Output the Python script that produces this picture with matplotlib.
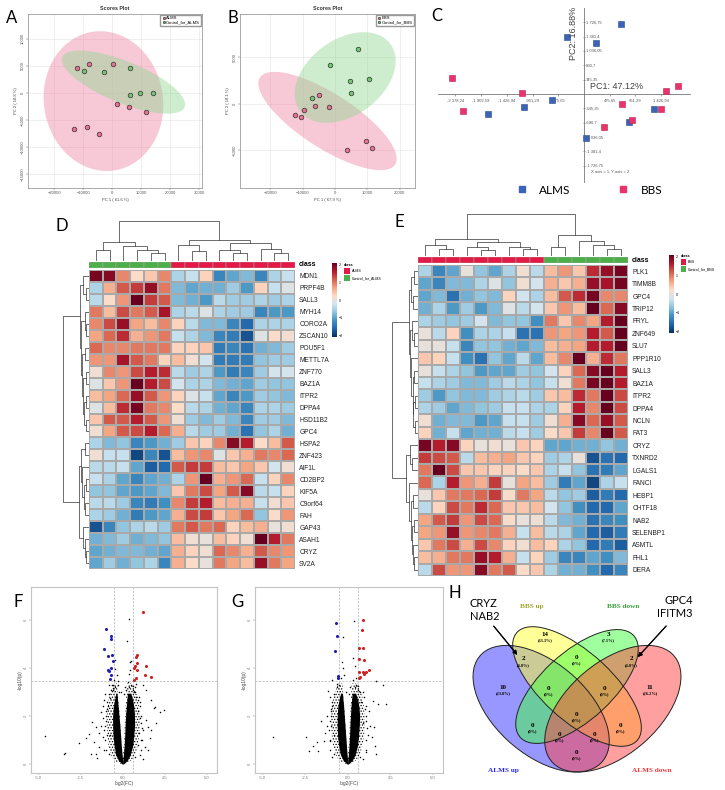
import numpy as np
import matplotlib
matplotlib.use("Agg")
import matplotlib.pyplot as plt
from matplotlib.patches import Ellipse, Rectangle
from matplotlib.lines import Line2D
from matplotlib.colors import LinearSegmentedColormap

plt.rcParams['font.family'] = ['Liberation Sans', 'DejaVu Sans']
plt.rcParams['hatch.linewidth'] = 0.6

W, H = 725, 790


def box(l, t, r, b):
    # pixel box (left, top, right, bottom) -> figure fraction rect
    return [l / W, 1 - b / H, (r - l) / W, (b - t) / H]


# ---------------- PCA scores (A, B) ----------------
a_alms_x = [-12000, -7900, 350, 1530, 6000, 11530, -13300, -8600, -4470]
a_alms_y = [4560, 5375, 5310, -2125, -2690, -3560, -6750, -6250, -7560]
a_ctrl_x = [-9760, -2820, 6240, 6240, 9650, 14000]
a_ctrl_y = [4125, 3810, 4560, -375, -60, -60]

b_bbs_x = [-5050, -6190, -1960, -9690, -12370, -10520, 9480, 11440, 3710]
b_bbs_y = [960, -290, -320, -680, -1180, -1460, -3960, -4750, -4960]
b_ctrl_x = [7110, -1650, 4540, 10620, 5050, -7010]
b_ctrl_y = [5930, 4210, 2500, 2610, 1110, 570]

# ---------------- PCA (C) ----------------
c_alms_x = [692, -321, 216, -593, -1106, -1767, 1303, 840, 43]
c_alms_y = [1691, 1362, 1226, -144, -312, -481, -353, -681, -1058]
c_bbs_x = [-2434, -1149, -2242, 704, 1520, 1736, 1421, 889, 371]
c_bbs_y = [393, 16, -409, -248, 64, 200, -361, -633, -793]
c_xticks = [-2378.24, -1902.59, -1426.94, -951.29, -475.65, 475.65, 951.29, 1426.94]
c_yticks = [-1726.75, -1381.4, -1036.05, -690.7, -345.35, 345.35, 690.7, 1036.05, 1381.4, 1726.75]

# ---------------- heatmap D ----------------
d_genes = ["MDN1", "PRPF4B", "SALL3", "MYH14", "CORO2A", "ZSCAN10", "POU5F1", "METTL7A",
           "ZNF770", "BAZ1A", "ITPR2", "DPPA4", "HSD11B2", "GPC4", "HSPA2", "ZNF423",
           "AIF1L", "CD2BP2", "KIF5A", "C9orf64", "FAH", "GAP43", "ASAH1", "CRYZ", "SV2A"]
d_classes = ["ctrl"] * 6 + ["case"] * 9
d_values = [
    [2.0, 1.9, 0.9, 0.2, 0.4, 0.9, -0.5, -0.3, 0.3, -1.3, -1.0, -0.8, -1.3, -0.5, -0.3],
    [-0.5, 0.6, 1.2, 1.4, 1.8, 1.0, -0.8, -1.0, -0.9, -0.9, -0.6, -1.1, 0.3, -0.3, -0.1],
    [-0.4, 0.2, 0.8, 2.4, 1.4, 1.2, -0.8, -0.9, -1.1, -0.4, -0.6, -0.6, -0.5, -0.6, -0.5],
    [1.0, 0.5, 1.3, 1.0, 1.2, 1.7, -0.5, -0.4, -0.1, -0.5, -0.6, -0.6, -1.3, -1.1, -1.1],
    [0.9, 1.3, 1.8, 0.7, 0.5, 0.9, 0.3, -0.4, -0.8, -0.8, -1.3, -1.6, -0.5, -0.5, -0.5],
    [0.7, 1.1, 1.5, 0.6, 0.8, 1.0, -0.3, -0.5, -0.8, -1.3, -1.4, -1.8, -0.1, 0.2, 0.1],
    [1.1, 0.9, 0.9, 1.0, 1.0, 1.0, 0.3, 0.3, 0.4, -1.4, -1.3, -1.5, -0.9, -0.8, -0.6],
    [0.8, 0.8, 1.7, 1.2, 1.0, 0.3, 0.5, 0.1, -0.2, -1.4, -1.4, -1.4, -0.7, -0.6, -0.6],
    [0.1, 0.9, 0.8, 1.3, 1.6, 1.5, -0.4, -0.6, -0.5, -1.1, -1.4, -1.3, -0.6, -0.2, -0.2],
    [-0.1, 0.4, 0.8, 2.2, 1.6, 1.3, -0.2, -0.5, -0.5, -0.8, -0.9, -1.0, -0.6, -0.7, -0.7],
    [0.5, 0.7, 1.1, 1.8, 1.2, 0.8, 0.3, -0.1, -0.3, -1.0, -1.3, -1.1, -0.6, -0.7, -0.8],
    [-0.1, 0.5, 1.5, 2.0, 1.0, 0.9, 0.2, -0.4, -0.5, -0.9, -1.0, -1.3, -0.5, -0.5, -0.6],
    [0.4, 1.2, 1.2, 1.6, 1.2, 0.8, 0.1, -0.6, -0.8, -0.6, -0.8, -1.3, -0.6, -0.6, -0.8],
    [0.1, 0.7, 1.2, 1.3, 1.6, 1.1, 0.6, -0.4, -0.6, -0.6, -0.9, -1.5, -0.7, -0.5, -0.9],
    [-0.5, -0.8, -0.7, -1.3, -1.1, -0.9, -0.6, 0.4, 0.3, 0.9, 1.9, 1.6, 0.2, 0.5, 1.2],
    [0.1, -0.3, -0.3, -1.9, -1.3, -1.8, 0.5, 0.8, 0.9, -0.1, 0.4, 0.6, 1.0, 0.9, 1.1],
    [-0.4, -0.4, -0.3, -1.0, -1.7, -1.6, 1.2, 1.4, 1.4, 0.5, 0.4, 0.7, 0.4, -0.2, 0.1],
    [-0.3, -0.5, -1.0, -1.3, -1.0, -0.9, -0.5, 0.8, 2.1, 0.6, 0.8, 1.1, -0.3, 0.3, 0.9],
    [-0.7, -0.7, -1.0, -1.1, -1.0, -0.8, 0.4, 1.0, 1.3, 0.7, 1.2, 1.9, -0.4, -0.3, 0.3],
    [-0.4, -0.4, -0.6, -1.3, -1.4, -1.2, 0.9, 1.4, 1.6, 0.5, 0.6, 0.6, -0.3, 0.1, 0.4],
    [-0.5, -0.6, -0.9, -1.4, -1.1, -1.0, 0.6, 1.3, 1.4, 0.4, 0.7, 1.1, -0.7, 0.2, 0.8],
    [-1.8, -1.3, -0.7, -0.5, -0.4, -0.6, 1.0, 1.2, 1.0, 1.1, 0.3, 0.5, 0.6, 0.0, 0.1],
    [-0.9, -0.8, -0.6, -0.9, -0.8, -0.7, 0.5, 0.1, 0.0, 0.5, 0.3, 0.1, 2.1, 1.6, 1.0],
    [-1.0, -0.9, -0.8, -0.8, -0.9, -1.0, 0.6, 0.3, 0.1, 1.1, 0.9, 0.6, 1.2, 0.9, 0.8],
    [-1.0, -0.6, -0.9, -0.7, -0.5, -1.3, 0.6, 0.2, 0.0, 1.0, 0.7, 0.5, 1.8, 1.0, 0.7],
]
# trees: leaf = column/row index, node = (height, left, right)
d_col_tree = (10, (4.9, (2.7, 0, 1), (3.7, 2, (2.8, 3, (2.0, 4, 5)))),
              (5.4, (4.1, 6, (2.4, 7, 8)), (4.6, (2.8, 9, (1.9, 10, 11)), (3.0, 12, (2.0, 13, 14)))))
d_row_tree = (10,
              (3.6, (2.2, 0, (1.2, 1, 2)),
               (3.0, (1.6, 3, (1.0, 4, 5)),
                (2.6, (1.4, 6, 7), (2.2, (1.2, 8, 9), (1.8, (1.0, 10, 11), (1.1, 12, 13)))))),
              (3.9, (3.2, (1.4, 14, 15), (2.6, 16, (2.0, (1.2, 17, 18), (1.4, 19, 20)))),
               (2.4, 21, (1.6, 22, (1.0, 23, 24)))))

# ---------------- heatmap E ----------------
e_genes = ["PLK1", "TIMM8B", "GPC4", "TRIP12", "FRYL", "ZNF649", "SLU7", "PPP1R10", "SALL3",
           "BAZ1A", "ITPR2", "DPPA4", "NCLN", "FAT3", "CRYZ", "TXNRD2", "LGALS1", "FANCI",
           "HEBP1", "CHTF18", "NAB2", "SELENBP1", "ASMTL", "FHL1", "DERA"]
e_classes = ["case"] * 9 + ["ctrl"] * 6
e_values = [
    [-0.5, -1.3, -1.0, 0.0, -0.7, -1.0, -0.5, 0.1, -0.4, 0.5, 0.8, 0.4, 1.5, 1.8, 2.0],
    [-1.0, -1.3, -0.8, -0.8, -0.5, -0.1, -0.7, 0.1, -0.2, 0.6, 0.4, 0.6, 1.8, 1.7, 2.0],
    [-1.0, -0.8, -1.5, -0.9, -0.7, -0.8, 0.3, -0.2, -0.5, 0.5, 1.2, 1.5, 2.0, 0.9, 0.9],
    [-0.9, -0.5, -1.1, -0.6, -1.1, -0.8, -0.1, -0.4, -0.2, 0.4, 0.8, 0.5, 2.4, 1.1, 1.9],
    [-0.5, -0.6, -0.7, -0.6, -0.2, -0.8, -0.7, -0.7, -1.2, 1.0, 0.4, 0.9, 0.7, 1.6, 2.4],
    [0.0, -0.4, 0.3, -1.2, -0.5, -0.5, -0.3, -1.5, -1.5, 0.8, 0.7, 0.8, 1.6, 1.2, 2.1],
    [0.0, 0.0, -0.3, -1.3, -0.7, -0.7, -0.9, -1.0, -0.8, 0.5, 0.6, 0.7, 1.6, 1.6, 2.4],
    [0.4, 0.3, -0.3, -1.2, -1.5, -0.7, -1.0, -0.4, -1.0, 0.5, 0.9, 2.3, 0.6, 1.5, 1.0],
    [0.0, -0.3, -0.5, -0.7, -1.1, -1.0, -1.0, -0.6, -0.7, -0.2, 0.3, 1.1, 1.9, 2.1, 1.6],
    [-0.3, -0.5, -0.6, -0.8, -0.8, -0.6, -0.4, -0.5, -0.7, -0.3, 0.1, 1.0, 2.0, 2.4, 1.6],
    [-0.6, -1.1, -0.7, -0.8, -0.8, -0.6, -0.5, -0.4, -0.6, 0.4, 0.5, 1.5, 1.0, 2.5, 1.3],
    [-0.5, -0.6, -1.0, -0.8, -0.7, -0.6, -0.3, -0.3, -0.5, -0.5, 0.3, 1.6, 0.9, 2.6, 1.3],
    [0.1, -0.9, -0.8, -0.8, -1.1, -1.0, -0.3, -0.3, -0.6, 0.1, 0.6, 1.9, 1.1, 1.8, 1.2],
    [0.3, -0.9, -0.3, -1.0, -0.9, -0.9, -0.4, -0.3, -0.6, 0.2, 0.4, 1.4, 0.9, 2.4, 1.2],
    [2.0, 1.6, 1.9, 0.3, 0.0, 0.1, 0.0, 0.4, 0.3, -1.0, -1.0, -0.9, -0.9, -0.7, -0.9],
    [1.4, 1.3, 1.2, -0.4, 0.5, 0.6, 0.7, 0.4, 0.3, -0.6, -0.5, 0.0, -1.8, -1.5, -1.6],
    [1.0, 2.4, 1.3, 0.4, 0.4, 0.3, 0.3, 0.2, 0.4, -0.5, -0.3, -0.7, -1.5, -1.4, -1.0],
    [1.1, -0.5, 1.6, 0.8, 0.6, 1.4, 0.0, 0.7, 0.5, -0.6, -1.4, -1.0, -1.9, -0.5, -0.3],
    [0.0, 0.4, 1.0, 1.0, 1.1, 1.4, 0.2, 1.0, 0.7, -0.4, -0.7, -0.6, -1.7, -1.4, -1.6],
    [-0.4, 0.3, 1.3, 1.0, 1.5, 1.1, 0.4, 0.4, 0.5, -0.2, -0.7, -1.2, -1.6, -1.6, -1.0],
    [0.7, 1.2, 1.4, 0.8, 1.3, 1.1, 0.2, 0.0, 0.1, -0.4, -0.8, -0.9, -1.5, -1.3, -1.2],
    [0.7, 0.8, 1.8, 0.8, 0.9, 1.0, 0.6, -0.3, 0.5, -0.4, -0.5, -1.0, -1.6, -1.7, -1.4],
    [0.4, 1.0, 1.3, 0.6, 1.3, 0.9, 0.3, 0.1, 0.5, 0.3, -0.5, -0.7, -1.6, -1.4, -1.7],
    [0.5, 0.6, 1.0, 1.0, 1.8, 1.6, 0.6, -0.3, 0.3, -0.6, -1.3, -1.3, -1.0, -1.2, -0.8],
    [-0.4, 1.3, 0.8, 0.8, 1.9, 1.0, 1.2, 0.2, 0.4, -0.5, -0.9, -0.9, -1.2, -1.6, -1.3],
]
e_col_tree = (10, (4.1, (2.6, 0, (1.6, 1, 2)), (3.3, (2.1, 3, (1.4, 4, 5)), (2.2, 6, (1.6, 7, 8)))),
              (5.1, (2.2, 9, 10), (3.5, 11, (2.6, 12, (1.6, 13, 14)))))
e_row_tree = (10,
              (3.6, (2.6, (1.6, 0, 1), (1.8, 2, 3)),
               (3.0, (2.2, 4, (1.5, 5, 6)),
                (2.6, 7, (2.0, (1.5, 8, 9), (1.8, (1.2, 10, 11), (1.3, 12, 13)))))),
              (4.5, (3.3, 14, (2.2, 15, 16)),
               (3.6, 17, (2.8, (2.0, 18, 19), (2.4, (1.6, 20, 21), (2.0, 22, (1.4, 23, 24)))))))

# ---------------- volcano F, G ----------------
# dense core read as an envelope (outer / inner edge of each lobe per -log10(p) level)
cloud_y = [0, 0.15, 0.4, 0.8, 1.2, 1.6, 2.0, 2.4, 2.7, 2.95]
f_left_outer = [-0.03, -0.25, -0.42, -0.52, -0.58, -0.6, -0.6, -0.56, -0.48, -0.4]
f_left_inner = [0, 0, -0.04, -0.09, -0.13, -0.17, -0.22, -0.27, -0.31, -0.34]
f_right_inner = [0, 0, 0.04, 0.09, 0.12, 0.14, 0.17, 0.21, 0.25, 0.28]
f_right_outer = [0.03, 0.27, 0.45, 0.6, 0.66, 0.7, 0.7, 0.66, 0.58, 0.48]
# sparser halo around the core
halo_y = [0, 0.15, 0.4, 0.8, 1.2, 1.6, 2.0, 2.4, 2.8, 3.1, 3.35]
f_left_far = [-0.12, -0.5, -0.72, -0.85, -0.92, -0.95, -0.95, -0.9, -0.8, -0.66, -0.5]
f_left_gap = [-0.01, -0.01, -0.02, -0.06, -0.1, -0.14, -0.18, -0.22, -0.27, -0.3, -0.3]
f_right_gap = [0.01, 0.01, 0.02, 0.06, 0.09, 0.11, 0.14, 0.17, 0.21, 0.24, 0.25]
f_right_far = [0.12, 0.52, 0.75, 0.9, 0.98, 1.02, 1.02, 0.98, 0.88, 0.72, 0.56]
f_blue_x = [-1.0, -0.72, -0.68, -1.14, -0.88, -0.66, -0.58, -0.88, -0.82, -0.68, -0.70, -0.74]
f_blue_y = [5.64, 5.32, 5.22, 4.78, 4.51, 4.54, 4.29, 3.93, 3.88, 4.0, 3.69, 3.54]
f_red_x = [1.22, 0.84, 0.78, 0.86, 0.66, 0.74, 0.82, 1.36, 1.34, 1.66, 0.78, 0.64]
f_red_y = [6.31, 4.54, 4.46, 4.21, 4.01, 4.07, 3.93, 4.10, 3.71, 3.63, 3.57, 3.49]
f_black_x = [0.40, 0.26, 0.50, 0.46, -0.48, -0.44, -0.50, -4.6, -3.5, -3.45, -2.6, -1.8, -1.6,
             -2.0, -1.9, -1.6, -1.4, -1.3, -1.2, -1.4, -1.1, 1.2, 1.4, 1.7, 1.9, 2.2, 2.44, 1.86,
             1.4, 1.5, 1.7, 1.2, 1.1, 1.5, 1.0, 1.3, 0.8, 0.9, -1.2, -1.3, -0.7, -0.6, 0.8, 0.7,
             -1.15, -1.05, 0.65, -0.8, 1.0, 1.05, 0.3, -0.3, 0.2, -0.2, -0.35, 0.35, 0.45, -1.7,
             -2.2, -1.5, -1.1, 1.2, 1.6, 2.0, -0.9, -0.95, 0.95,
             -1.0, -1.05, -1.1, -1.02, -0.98, -0.95, -0.8, -0.6, 1.08, 1.12, 1.15, 1.1, 1.05, 0.95,
             0.6, 0.5, -0.45, -0.75, -0.8, 0.75, 1.1, -1.0, 0.7, -0.65, 0.4, -0.3, 0.15, -0.12,
             0.05, -1.05, -0.78, 0.88, -0.6, 0.62, 0.9, -0.92]
f_black_y = [6.03, 5.11, 4.31, 4.25, 3.96, 4.32, 3.5, 1.15, 0.43, 0.45, 0.89, 1.75, 1.54,
             1.26, 0.43, 0.43, 0.71, 2.17, 1.13, 1.3, 2.65, 3.3, 3.07, 2.65, 2.38, 2.17, 2.24, 2.33,
             1.82, 1.54, 1.40, 1.4, 0.99, 0.57, 0.36, 0.7, 2.8, 2.2, 1.9, 1.6, 3.07, 3.28, 3.35, 3.2,
             2.4, 2.9, 3.0, 3.3, 2.6, 1.9, 3.4, 3.3, 3.1, 3.0, 3.7, 3.75, 3.9, 0.9,
             1.1, 0.25, 0.6, 0.2, 1.1, 1.7, 2.4, 1.2, 1.3,
             0.6, 1.0, 1.4, 1.8, 2.2, 2.6, 2.9, 3.1, 0.6, 1.0, 1.5, 2.0, 2.4, 2.8,
             3.1, 3.3, 3.2, 1.2, 0.4, 0.3, 1.7, 2.0, 3.0, 3.3, 3.2, 3.45, 3.2, 3.0,
             2.9, 1.6, 2.75, 2.65, 3.15, 3.25, 0.8, 2.3]

g_left_outer = [-0.03, -0.26, -0.43, -0.54, -0.6, -0.62, -0.62, -0.58, -0.5, -0.42]
g_left_inner = [0, 0, -0.04, -0.08, -0.12, -0.16, -0.2, -0.24, -0.28, -0.31]
g_right_inner = [0, 0, 0.04, 0.08, 0.11, 0.13, 0.16, 0.19, 0.23, 0.26]
g_right_outer = [0.03, 0.26, 0.44, 0.58, 0.64, 0.68, 0.7, 0.66, 0.58, 0.46]
g_left_far = [-0.12, -0.5, -0.72, -0.86, -0.94, -0.97, -0.97, -0.92, -0.82, -0.7, -0.55]
g_left_gap = [-0.01, -0.01, -0.02, -0.06, -0.1, -0.13, -0.17, -0.21, -0.25, -0.28, -0.28]
g_right_gap = [0.01, 0.01, 0.02, 0.06, 0.09, 0.11, 0.13, 0.16, 0.2, 0.22, 0.23]
g_right_far = [0.12, 0.5, 0.72, 0.88, 0.96, 1.0, 1.0, 0.96, 0.86, 0.72, 0.6]
g_blue_x = [-0.66, -0.62, -0.72, -0.59, -0.55]
g_blue_y = [5.86, 5.33, 4.71, 3.65, 3.60]
g_red_x = [0.92, 0.82, 0.64, 0.88, 0.64, 0.98, 1.27, 0.88, 1.07, 0.68, 0.94, 0.74, 0.66]
g_red_y = [6.0, 5.56, 4.82, 4.82, 4.39, 4.35, 3.90, 3.82, 3.82, 3.82, 3.75, 3.61, 3.58]
g_black_x = [0.35, -0.25, -0.33, 0.29, -0.3, 0.45, 1.66, 2.09, -4.39, -2.44, -2.05, -2.29, -1.76,
             -1.56, -1.21, -1.35, -1.07, -0.98, -1.07, -1.15, 1.46, 1.8, 2.25, 1.07, 1.52, 1.43, 1.6,
             1.66, 1.25, 1.2, -1.4, -0.9, -1.2, 0.9, 0.8, 1.0, -0.4, 0.3, -0.2, 0.5, -1.0, 1.1,
             -1.8, -0.9, 0.9, 1.3,
             -1.02, -1.05, -1.08, -1.02, -1.0, -0.95, -0.82, -0.65, 1.05, 1.1, 1.12, 1.1, 1.05, 0.95,
             0.6, 0.5, -0.5, -0.78, -0.8, 0.75, -1.0, 0.7, -0.65, 0.4, 0.15, -0.12, 0.05, 0.62,
             -0.95, 0.92]
g_black_y = [5.94, 5.28, 4.24, 4.42, 4.0, 4.1, 3.44, 3.28, 1.14, 1.14, 0.76, 0.53, 0.53,
             1.81, 1.57, 1.3, 0.98, 2.29, 2.78, 3.06, 2.64, 2.5, 2.5, 1.81, 1.53, 1.11, 0.74,
             0.42, 2.2, 1.2, 0.98, 3.5, 2.0, 3.0, 2.6, 2.3, 3.6, 3.5, 3.7, 3.6, 1.6, 0.5,
             0.9, 0.3, 0.2, 1.6,
             0.6, 1.0, 1.4, 1.8, 2.2, 2.6, 2.9, 3.2, 0.6, 1.0, 1.5, 2.0, 2.4, 2.8,
             3.1, 3.3, 3.3, 1.2, 0.4, 0.3, 2.0, 3.0, 3.35, 3.2, 3.2, 3.0, 2.9, 3.25,
             2.4, 1.7]

# ---------------- Venn H ----------------
venn_names = ["ALMS up", "BBS up", "BBS down", "ALMS down"]
venn_colors = ["#3030ff", "#ffff30", "#40ff40", "#ff4040"]
venn_text_colors = ["#2a2af0", "#a3a32e", "#3aa03a", "#f03a3a"]
venn_counts = [14, 3, 2, 0, 2, 10, 0, 0, 11, 0, 0, 0, 0, 0, 0]
venn_pcts = ["33.3%", "7.1%", "4.8%", "0%", "4.8%", "23.8%", "0%", "0%", "26.2%",
             "0%", "0%", "0%", "0%", "0%", "0%"]
venn_region_x = [0.366, 0.631, 0.275, 0.499, 0.726, 0.192, 0.380, 0.617, 0.805,
                 0.315, 0.499, 0.683, 0.425, 0.572, 0.499]
venn_region_y = [0.791, 0.791, 0.682, 0.689, 0.682, 0.554, 0.551, 0.551, 0.554,
                 0.381, 0.431, 0.381, 0.341, 0.341, 0.261]

pink, green = "#e5738f", "#76c276"
red_cls, green_cls = "#e31a47", "#4daf4a"
# pheatmap-style ramp over the reversed 10-class RdBu palette
rdbu10 = ["#053061", "#2166AC", "#4393C3", "#92C5DE", "#D1E5F0",
          "#FDDBC7", "#F4A582", "#D6604D", "#B2182B", "#67001F"]
cmap = LinearSegmentedColormap.from_list("rdbu10", rdbu10, N=256)


def fmt_fr(v):
    s = f"{abs(v):,.2f}".rstrip("0").rstrip(".")
    s = s.replace(",", " ").replace(".", ",")
    return ("-" if v < 0 else "") + s


def conf_ellipse(ax, xs, ys, color, alpha):
    pts = np.column_stack([xs, ys]).astype(float)
    vals, vecs = np.linalg.eigh(np.cov(pts.T))
    t = np.linspace(0, 2 * np.pi, 200)
    circ = np.stack([np.cos(t), np.sin(t)])
    ell = vecs @ (np.sqrt(vals * 5.991)[:, None] * circ) + pts.mean(0)[:, None]
    ax.fill(ell[0], ell[1], color=color, alpha=alpha, lw=0, zorder=1)


def scores_plot(ax, gx, gy, cx, cy, names, xticks, yticks, xlab, ylab, lims):
    conf_ellipse(ax, gx, gy, "#ef86a6", 0.45)
    conf_ellipse(ax, cx, cy, "#93d893", 0.45)
    ax.scatter(gx, gy, s=11, c=pink, edgecolors="#333333", linewidths=0.5, zorder=3, label=names[0])
    ax.scatter(cx, cy, s=11, c=green, edgecolors="#333333", linewidths=0.5, zorder=3, label=names[1])
    ax.set_xlim(lims[0]); ax.set_ylim(lims[1])
    ax.set_xticks(xticks); ax.set_yticks(yticks)
    ax.grid(color="#e4e4e4", lw=0.4, zorder=0)
    ax.set_axisbelow(True)
    ax.tick_params(labelsize=3, length=1.2, width=0.3, colors="#555555", pad=1)
    for lab in ax.get_yticklabels():
        lab.set_rotation(90); lab.set_va("center")
    for sp in ax.spines.values():
        sp.set_color("#888888"); sp.set_linewidth(0.5)
    ax.set_xlabel(xlab, fontsize=3, labelpad=2, color="#444444")
    ax.set_ylabel(ylab, fontsize=3, labelpad=2, color="#444444")
    ax.set_title("Scores Plot", fontsize=3.8, fontweight="bold", pad=3, color="#333333")
    ax.legend(loc="upper right", fontsize=3, markerscale=0.5, borderpad=0.3, handletextpad=0.1,
              labelspacing=0.1, fancybox=False, edgecolor="#999999", framealpha=1,
              borderaxespad=0.2, handlelength=1.0)


def draw_tree(ax, tree, orient):
    def rec(node):
        if isinstance(node, int):
            return node + 0.5, 0.0
        h, l, r = node
        xl, hl = rec(l)
        xr, hr = rec(r)
        if orient == "top":
            ax.plot([xl, xl, xr, xr], [hl, h, h, hr], color="#333333", lw=0.5)
        else:
            ax.plot([hl, h, h, hr], [xl, xl, xr, xr], color="#333333", lw=0.5)
        return (xl + xr) / 2, h
    rec(tree)
    ax.axis("off")


def heatmap(fig, vals, genes, classes, col_tree, row_tree, cells, dend_top, dend_left, bar,
            cbar_box, leg_box, leg_names):
    l, t, r, b = cells
    vals = np.array(vals)
    nr, nc = vals.shape
    ax = fig.add_axes(box(l, t, r, b))
    mesh = ax.pcolormesh(vals, cmap=cmap, vmin=-2.1, vmax=2.1, edgecolors="#a9a9a9", linewidth=0.35)
    ax.set_xlim(0, nc); ax.set_ylim(nr, 0)
    ax.set_xticks([])
    ax.yaxis.tick_right()
    ax.set_yticks(np.arange(nr) + 0.5)
    ax.set_yticklabels(genes, fontsize=4.8, color="#222222")
    ax.tick_params(axis="y", length=0, pad=3)
    for sp in ax.spines.values():
        sp.set_visible(False)
    # class bar
    axb = fig.add_axes(box(l, bar[0], r, bar[1]))
    cls_col = {"case": red_cls, "ctrl": green_cls}
    for i, c in enumerate(classes):
        axb.add_patch(Rectangle((i, 0), 1, 1, facecolor=cls_col[c], edgecolor="#a9a9a9", lw=0.35))
    axb.set_xlim(0, nc); axb.set_ylim(0, 1)
    axb.axis("off")
    axb.text(nc + 0.3, 0.5, "class", fontsize=5, fontweight="bold", va="center", ha="left")
    # dendrograms
    axt = fig.add_axes(box(l, dend_top, r, bar[0] - 1))
    draw_tree(axt, col_tree, "top")
    axt.set_xlim(0, nc); axt.set_ylim(0, col_tree[0] * 1.01)
    axl = fig.add_axes(box(dend_left, t, l, b))
    draw_tree(axl, row_tree, "left")
    axl.set_ylim(nr, 0); axl.set_xlim(row_tree[0] * 1.01, 0)
    # colour key
    cax = fig.add_axes(box(*cbar_box))
    cb = fig.colorbar(mesh, cax=cax, ticks=[-2, -1, 0, 1, 2])
    cb.outline.set_visible(False)
    cb.ax.tick_params(labelsize=2.6, length=0, pad=1.2)
    # class legend
    axg = fig.add_axes(box(*leg_box))
    axg.set_xlim(0, 1); axg.set_ylim(1, 0); axg.axis("off")
    axg.text(0.0, 0.12, "class", fontsize=2.8, fontweight="bold", va="center")
    for k, (nm, col) in enumerate(leg_names):
        y0 = 0.28 + k * 0.3
        axg.add_patch(Rectangle((0.0, y0), 0.12, 0.26, facecolor=col, edgecolor="none"))
        axg.text(0.16, y0 + 0.13, nm, fontsize=2.6, va="center")


def volcano(ax, env, halo, blue, red, black):
    lo, li, ri, ro = env
    hl, hli, hri, hr = halo
    # halo drawn as a dotted texture, core as solid black
    ax.fill_betweenx(halo_y, hl, hli, facecolor="none", edgecolor="black", hatch="......", lw=0, zorder=2)
    ax.fill_betweenx(halo_y, hri, hr, facecolor="none", edgecolor="black", hatch="......", lw=0, zorder=2)
    ax.fill_betweenx(cloud_y, lo, li, color="black", lw=0, zorder=2)
    ax.fill_betweenx(cloud_y, ri, ro, color="black", lw=0, zorder=2)
    ax.scatter(black[0], black[1], s=1.2, c="black", lw=0, zorder=3)
    ax.scatter(blue[0], blue[1], s=5, c="#1f1fb4", lw=0, zorder=4)
    ax.scatter(red[0], red[1], s=5, c="#cc2222", lw=0, zorder=4)
    ax.axvline(-0.5, color="#aaaaaa", ls=(0, (3, 2)), lw=0.5, zorder=1)
    ax.axvline(0.585, color="#aaaaaa", ls=(0, (3, 2)), lw=0.5, zorder=1)
    ax.axhline(3.47, color="#aaaaaa", ls=(0, (3, 2)), lw=0.5, zorder=1)
    ax.set_xlim(-5.45, 5.6); ax.set_ylim(-0.37, 7.37)
    ax.set_xticks([-5, -2.5, 0, 2.5, 5])
    ax.set_xticklabels(["-5.0", "-2.5", "0.0", "2.5", "5.0"])
    ax.set_yticks([0, 2, 4, 6])
    ax.tick_params(labelsize=3, length=1.2, width=0.3, colors="#777777", pad=1)
    for lab in ax.get_yticklabels():
        lab.set_rotation(90); lab.set_va("center")
    for sp in ax.spines.values():
        sp.set_color("#c4c4c4"); sp.set_linewidth(0.8)
    ax.set_xlabel("log2(FC)", fontsize=3.5, labelpad=1, color="#444444")
    ax.set_ylabel("-log10(p)", fontsize=3.5, labelpad=1, color="#444444")


fig = plt.figure(figsize=(W / 100, H / 100), dpi=100)

# A and B
axA = fig.add_axes(box(28, 14, 202, 188))
scores_plot(axA, a_alms_x, a_alms_y, a_ctrl_x, a_ctrl_y, ["ALMS", "Control_for_ALMS"],
            [-20000, -10000, 0, 10000, 20000, 30000], [-15000, -10000, -5000, 0, 5000, 10000],
            "PC 1 ( 61.6 %)", "PC 2 ( 18.8 %)", ((-29000, 31000), (-17600, 14600)))
axB = fig.add_axes(box(240, 14, 415, 188))
scores_plot(axB, b_bbs_x, b_bbs_y, b_ctrl_x, b_ctrl_y, ["BBS", "Control_for_BBS"],
            [-20000, -10000, 0, 10000, 20000], [-5000, 0, 5000],
            "PC 1 ( 67.9 %)", "PC 2 ( 18.1 %)", ((-29400, 24700), (-9040, 9640)))

# C
axC = fig.add_axes(box(438, 8, 690, 182))
axC.scatter(c_alms_x, c_alms_y, marker="s", s=20, c="#3b64b8", edgecolors="#2a4a8c", lw=0.4, zorder=3)
axC.scatter(c_bbs_x, c_bbs_y, marker="s", s=20, c="#e8336b", edgecolors="#c02050", lw=0.4, zorder=3)
axC.set_xlim(-2701, 1961); axC.set_ylim(-2115, 2067)
axC.spines["left"].set_position(("data", 0))
axC.spines["bottom"].set_position(("data", 0))
axC.spines["top"].set_visible(False); axC.spines["right"].set_visible(False)
for s in ["left", "bottom"]:
    axC.spines[s].set_color("#777777"); axC.spines[s].set_linewidth(0.6)
axC.set_xticks(c_xticks)
axC.set_xticklabels([fmt_fr(v) for v in c_xticks])
axC.set_yticks(c_yticks)
axC.set_yticklabels([])
axC.tick_params(axis="x", labelsize=3, length=1.5, width=0.4, colors="#555555", pad=1.5)
axC.tick_params(axis="y", length=1.5, width=0.4, colors="#555555", direction="inout")
for v in c_yticks:
    axC.text(40, v, fmt_fr(v), fontsize=3, color="#555555", va="center", ha="left")
axC.text(-190, 1466, "PC2: 16.88%", rotation=90, fontsize=6.5, ha="center", va="center", color="#404040")
axC.text(605, 180, "PC1: 47.12%", fontsize=6.5, ha="center", va="center", color="#404040")
axC.text(481, -1874, "X axis = 1, Y axis = 2", fontsize=3, ha="center", va="center", color="#555555")
fig.legend(handles=[Line2D([], [], marker="s", ls="", color="#3b64b8", ms=5, label="ALMS"),
                    Line2D([], [], marker="s", ls="", color="#e8336b", ms=5, label="BBS")],
           loc="center", bbox_to_anchor=(586 / W, 1 - 190 / H), ncol=2, frameon=False,
           columnspacing=3.4, handletextpad=0.5, prop={"family": "Lato", "size": 8.5})

# D and E
heatmap(fig, d_values, d_genes, d_classes, d_col_tree, d_row_tree,
        (89, 270, 295, 569), 221, 63, (262, 268), (332, 263, 337, 337), (344, 262, 392, 285),
        [("ALMS", red_cls), ("Control_for_ALMS", green_cls)])
heatmap(fig, e_values, e_genes, e_classes, e_col_tree, e_row_tree,
        (418, 265, 628, 576), 214, 392, (257, 263), (669, 255, 674, 333), (681, 253, 725, 276),
        [("BBS", red_cls), ("Control_for_BBS", green_cls)])

# F and G
axF = fig.add_axes(box(31, 587, 217, 773))
volcano(axF, (f_left_outer, f_left_inner, f_right_inner, f_right_outer),
        (f_left_far, f_left_gap, f_right_gap, f_right_far),
        (f_blue_x, f_blue_y), (f_red_x, f_red_y), (f_black_x, f_black_y))
axG = fig.add_axes(box(255, 587, 443, 773))
volcano(axG, (g_left_outer, g_left_inner, g_right_inner, g_right_outer),
        (g_left_far, g_left_gap, g_right_gap, g_right_far),
        (g_blue_x, g_blue_y), (g_red_x, g_red_y), (g_black_x, g_black_y))

# H venn
axH = fig.add_axes(box(457.5, 591, 696.5, 790))
axH.set_xlim(0, 1); axH.set_ylim(0.104, 1); axH.axis("off")
venn_geom = [((0.35, 0.47), 0.70, 0.40, 135), ((0.50, 0.57), 0.70, 0.30, 135),
             ((0.50, 0.57), 0.66, 0.30, 45), ((0.65, 0.47), 0.70, 0.40, 45)]
for (cen, w, h, ang), col in zip(venn_geom, venn_colors):
    axH.add_patch(Ellipse(cen, w, h, angle=ang, facecolor=col, alpha=0.5, edgecolor="none"))
for cen, w, h, ang in venn_geom:
    axH.add_patch(Ellipse(cen, w, h, angle=ang, facecolor="none", edgecolor="#222222", lw=0.7))
for x, y, n, p in zip(venn_region_x, venn_region_y, venn_counts, venn_pcts):
    axH.text(x, y + 0.012, str(n), fontsize=5, fontweight="bold", family="Liberation Serif",
             ha="center", va="center")
    axH.text(x, y - 0.014, f"({p})", fontsize=3.2, fontweight="bold", family="Liberation Serif",
             ha="center", va="center")
venn_label_x = [0.192, 0.312, 0.694, 0.812]
venn_label_y = [0.194, 0.929, 0.929, 0.194]
for x, y, nm, col in zip(venn_label_x, venn_label_y, venn_names, venn_text_colors):
    axH.text(x, y, nm, fontsize=5.2, fontweight="bold", family="Liberation Serif", color=col,
             ha="center", va="center")
fig.text(470 / W, 1 - 610 / H, "CRYZ\nNAB2", fontsize=8, family="Lato", ha="left", va="center",
         linespacing=1.2)
fig.text(693 / W, 1 - 607 / H, "GPC4\nIFITM3", fontsize=8, family="Lato", ha="right", va="center",
         linespacing=1.2)
fig.add_artist(plt.annotate("", xy=(519, H - 657), xytext=(492, H - 624), xycoords="figure pixels",
                            arrowprops=dict(arrowstyle="-|>", color="black", lw=0.8, mutation_scale=6)))
fig.add_artist(plt.annotate("", xy=(636, H - 659), xytext=(668, H - 624), xycoords="figure pixels",
                            arrowprops=dict(arrowstyle="-|>", color="black", lw=0.8, mutation_scale=6)))

# panel letters
for letter, x, y in [("A", 12, 18), ("B", 233, 18), ("C", 437, 16), ("D", 62, 226), ("E", 399, 222),
                     ("F", 18, 602), ("G", 237, 602), ("H", 455, 593)]:
    fig.text(x / W, 1 - y / H, letter, fontsize=12, family="Lato", ha="center", va="center")

fig.savefig("out.png", dpi=100)
